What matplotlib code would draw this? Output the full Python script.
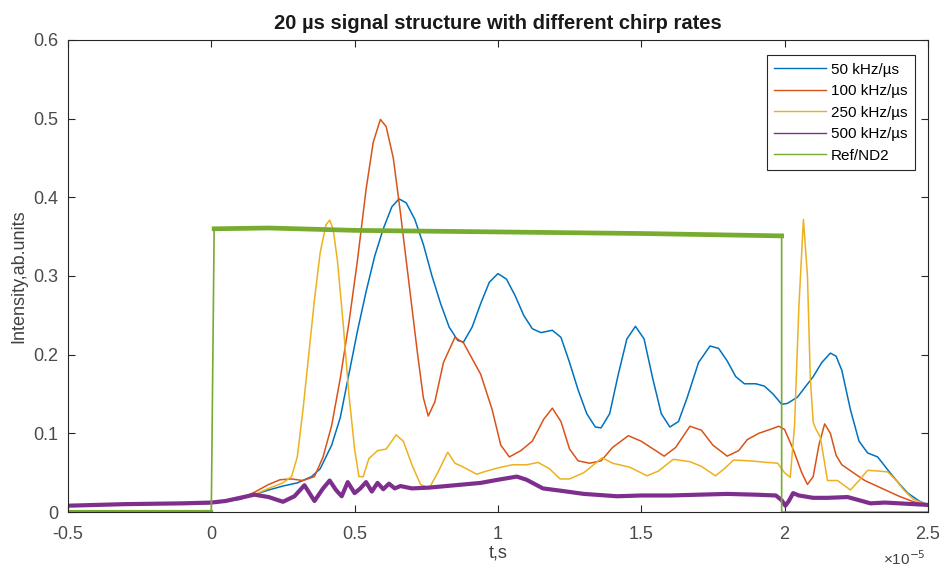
import numpy as np
import matplotlib.pyplot as plt

# time axis in units of 1e-5 s
t_50 = [-0.5, 0.0, 0.1, 0.15, 0.2, 0.25, 0.3, 0.35, 0.38, 0.42, 0.45, 0.48, 0.51, 0.54,
        0.57, 0.60, 0.63, 0.655, 0.68, 0.71, 0.74, 0.77, 0.80, 0.83, 0.86, 0.88, 0.91,
        0.94, 0.97, 1.0, 1.03, 1.06, 1.09, 1.12, 1.15, 1.19, 1.22, 1.25, 1.28, 1.31,
        1.34, 1.36, 1.39, 1.42, 1.45, 1.48, 1.51, 1.54, 1.57, 1.60, 1.63, 1.66, 1.70,
        1.74, 1.77, 1.80, 1.83, 1.86, 1.90, 1.93, 1.96, 1.99, 2.01, 2.045, 2.10, 2.13,
        2.16, 2.18, 2.20, 2.23, 2.26, 2.29, 2.325, 2.37, 2.40, 2.43, 2.47, 2.5]
i_50 = [0.009, 0.011, 0.016, 0.022, 0.028, 0.033, 0.037, 0.045, 0.055, 0.085, 0.12, 0.175,
        0.23, 0.28, 0.325, 0.36, 0.388, 0.398, 0.393, 0.372, 0.34, 0.30, 0.265, 0.235,
        0.218, 0.216, 0.235, 0.265, 0.292, 0.303, 0.296, 0.275, 0.250, 0.233, 0.228,
        0.231, 0.222, 0.19, 0.155, 0.125, 0.108, 0.107, 0.125, 0.175, 0.22, 0.236, 0.22,
        0.17, 0.125, 0.108, 0.115, 0.145, 0.19, 0.211, 0.208, 0.192, 0.172, 0.163, 0.163,
        0.160, 0.150, 0.137, 0.138, 0.146, 0.172, 0.190, 0.202, 0.198, 0.180, 0.130,
        0.090, 0.075, 0.070, 0.049, 0.036, 0.024, 0.014, 0.009]

t_100 = [-0.5, 0.0, 0.1, 0.15, 0.2, 0.24, 0.28, 0.32, 0.36, 0.39, 0.42, 0.45, 0.48, 0.51,
         0.54, 0.565, 0.59, 0.61, 0.635, 0.66, 0.69, 0.72, 0.74, 0.757, 0.78, 0.81, 0.85,
         0.88, 0.91, 0.94, 0.98, 1.01, 1.04, 1.08, 1.12, 1.16, 1.19, 1.22, 1.25, 1.28,
         1.32, 1.36, 1.40, 1.455, 1.50, 1.58, 1.62, 1.67, 1.71, 1.75, 1.80, 1.84, 1.87,
         1.91, 1.95, 1.98, 2.0, 2.03, 2.06, 2.08, 2.10, 2.12, 2.14, 2.16, 2.18, 2.20,
         2.24, 2.28, 2.34, 2.40, 2.45, 2.5]
i_100 = [0.009, 0.011, 0.017, 0.025, 0.035, 0.041, 0.042, 0.040, 0.045, 0.07, 0.11, 0.17,
         0.24, 0.32, 0.41, 0.47, 0.499, 0.49, 0.45, 0.38, 0.29, 0.20, 0.145, 0.122, 0.14,
         0.19, 0.222, 0.215, 0.195, 0.175, 0.13, 0.085, 0.070, 0.078, 0.090, 0.118, 0.132,
         0.115, 0.08, 0.065, 0.062, 0.065, 0.082, 0.097, 0.090, 0.071, 0.082, 0.109, 0.104,
         0.085, 0.071, 0.078, 0.092, 0.100, 0.105, 0.109, 0.105, 0.08, 0.05, 0.035, 0.045,
         0.085, 0.112, 0.100, 0.072, 0.060, 0.050, 0.040, 0.030, 0.020, 0.013, 0.009]

t_250 = [-0.5, 0.0, 0.1, 0.15, 0.2, 0.25, 0.28, 0.30, 0.32, 0.34, 0.36, 0.38, 0.40, 0.413,
         0.425, 0.44, 0.46, 0.48, 0.50, 0.515, 0.53, 0.55, 0.58, 0.61, 0.645, 0.67, 0.70,
         0.73, 0.76, 0.79, 0.825, 0.85, 0.88, 0.926, 0.96, 1.0, 1.05, 1.10, 1.14, 1.18,
         1.217, 1.25, 1.30, 1.364, 1.40, 1.46, 1.52, 1.56, 1.612, 1.67, 1.71, 1.759, 1.79,
         1.822, 1.88, 1.94, 1.976, 2.0, 2.02, 2.035, 2.05, 2.066, 2.08, 2.09, 2.10, 2.11,
         2.125, 2.15, 2.185, 2.23, 2.26, 2.29, 2.33, 2.36, 2.39, 2.416, 2.45, 2.5]
i_250 = [0.009, 0.011, 0.017, 0.022, 0.03, 0.037, 0.045, 0.07, 0.13, 0.2, 0.27, 0.33, 0.365,
         0.371, 0.36, 0.32, 0.24, 0.15, 0.08, 0.045, 0.045, 0.068, 0.078, 0.08, 0.098,
         0.09, 0.06, 0.035, 0.03, 0.05, 0.076, 0.062, 0.057, 0.048, 0.052, 0.056, 0.060,
         0.060, 0.063, 0.055, 0.042, 0.042, 0.050, 0.069, 0.062, 0.057, 0.046, 0.052,
         0.067, 0.064, 0.058, 0.046, 0.055, 0.066, 0.065, 0.063, 0.062, 0.05, 0.044, 0.11,
         0.26, 0.372, 0.30, 0.17, 0.114, 0.105, 0.095, 0.040, 0.040, 0.028, 0.040, 0.053,
         0.052, 0.051, 0.040, 0.028, 0.016, 0.009]

t_500 = [-0.5, -0.3, -0.1, 0.0, 0.05, 0.1, 0.15, 0.2, 0.25, 0.29, 0.325, 0.36, 0.39, 0.413,
         0.435, 0.455, 0.476, 0.50, 0.52, 0.54, 0.56, 0.58, 0.60, 0.62, 0.64, 0.66, 0.70,
         0.76, 0.85, 0.94, 1.0, 1.066, 1.10, 1.157, 1.22, 1.3, 1.416, 1.5, 1.6, 1.7, 1.8,
         1.9, 1.97, 1.99, 2.003, 2.015, 2.03, 2.05, 2.1, 2.15, 2.22, 2.26, 2.3, 2.35, 2.4,
         2.45, 2.5]
i_500 = [0.008, 0.010, 0.011, 0.012, 0.014, 0.018, 0.022, 0.019, 0.013, 0.020, 0.034, 0.014,
         0.030, 0.040, 0.028, 0.020, 0.038, 0.024, 0.030, 0.038, 0.026, 0.037, 0.029,
         0.036, 0.030, 0.033, 0.030, 0.031, 0.034, 0.037, 0.041, 0.045, 0.041, 0.030,
         0.027, 0.023, 0.020, 0.021, 0.021, 0.022, 0.023, 0.022, 0.021, 0.015, 0.008,
         0.014, 0.024, 0.021, 0.018, 0.018, 0.019, 0.015, 0.011, 0.012, 0.011, 0.010, 0.009]

t_ref = [-0.5, 0.0, 0.0, 0.01, 0.2, 0.5, 1.0, 1.5, 1.985, 1.99, 1.99, 2.5]
i_ref = [0.0, 0.0, 0.0, 0.360, 0.361, 0.358, 0.356, 0.354, 0.351, 0.351, 0.0, 0.0]

labels = ["50 kHz/\u00b5s", "100 kHz/\u00b5s", "250 kHz/\u00b5s", "500 kHz/\u00b5s", "Ref/ND2"]
colors = ["#0072BD", "#D95319", "#EDB120", "#7E2F8E", "#77AC30"]

plt.rcParams['font.family'] = ['Liberation Sans', 'DejaVu Sans']

fig = plt.figure(figsize=(9.39, 5.67), dpi=100)
ax = fig.add_axes([0.0724, 0.097, 0.9157, 0.8325])

ax.plot(t_50, i_50, color=colors[0], lw=1.1, label=labels[0])
ax.plot(t_100, i_100, color=colors[1], lw=1.1, label=labels[1])
ax.plot(t_250, i_250, color=colors[2], lw=1.1, label=labels[2])
ax.plot(t_500, i_500, color=colors[3], lw=3.0, label=labels[3])
ax.plot(t_ref, i_ref, color=colors[4], lw=1.2, label=labels[4])

# noisy plateau and pre-trigger baseline of the reference look thicker
t_ref_arr = np.array(t_ref)
i_ref_arr = np.array(i_ref)
top = i_ref_arr > 0.3
ax.plot(t_ref_arr[top], i_ref_arr[top], color=colors[4], lw=3.4)
ax.plot(t_ref_arr[:2], i_ref_arr[:2], color=colors[4], lw=3.0)

ax.set_xlim(-0.5, 2.5)
ax.set_ylim(0, 0.6)
ax.set_xticks([-0.5, 0, 0.5, 1, 1.5, 2, 2.5])
ax.set_xticklabels(["-0.5", "0", "0.5", "1", "1.5", "2", "2.5"])
ax.set_yticks([0, 0.1, 0.2, 0.3, 0.4, 0.5, 0.6])
ax.set_yticklabels(["0", "0.1", "0.2", "0.3", "0.4", "0.5", "0.6"])
ax.tick_params(direction='in', top=True, right=True, length=5, width=0.8,
               labelsize=13, labelcolor='#4a4a4a', color='#262626')
ax.tick_params(axis='x', pad=10)
ax.tick_params(axis='y', pad=7)
for s in ax.spines.values():
    s.set_color('#262626')
    s.set_linewidth(0.8)

ax.set_title("20 \u00b5s signal structure with different chirp rates",
             fontsize=14.5, fontweight='bold', color='#1a1a1a', pad=8)
ax.set_xlabel("t,s", fontsize=13, color='#404040', labelpad=1)
ax.set_ylabel("Intensity,ab.units", fontsize=13, color='#404040', labelpad=4)
ax.text(0.997, -0.078, "\u00d710$^{-5}$", transform=ax.transAxes, ha='right', va='top',
        fontsize=11, color='#404040')

leg = ax.legend(loc='upper right', bbox_to_anchor=(0.985, 0.968), borderaxespad=0,
                fontsize=11, handlelength=3.4, handletextpad=0.3, labelspacing=0.49,
                fancybox=False, framealpha=1, edgecolor='#262626', borderpad=0.5)
leg.get_frame().set_linewidth(0.8)
for line in leg.get_lines():
    line.set_linewidth(1.0)

fig.savefig("out.png", dpi=100)
